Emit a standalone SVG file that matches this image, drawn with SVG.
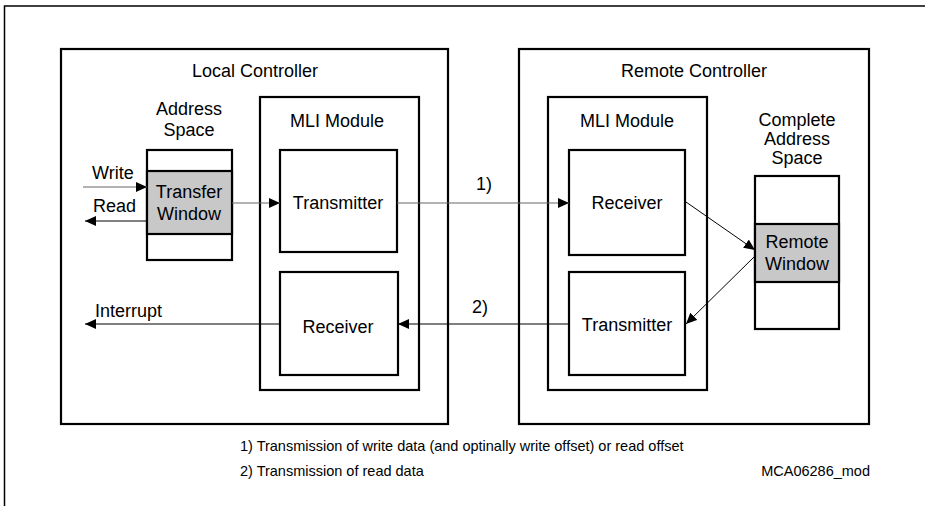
<svg xmlns="http://www.w3.org/2000/svg" width="925" height="506" viewBox="0 0 925 506">
<style>
  .frame{fill:none;stroke:#000;stroke-width:1.5}
  .box{fill:#fff;stroke:#000;stroke-width:2.2}
  .win{fill:#c8c8c8;stroke:#000;stroke-width:2.2}
  .t{font-family:"Liberation Sans",Arial,sans-serif;font-size:18px;fill:#000}
  .c{text-anchor:middle}
  .fn{font-family:"Liberation Sans",Arial,sans-serif;font-size:14.5px;fill:#000}
  .ln{fill:none;stroke:#000;stroke-width:1}
  .gr{fill:none;stroke:#666;stroke-width:1}
</style>
<defs>
  <marker id="ah" markerUnits="userSpaceOnUse" markerWidth="12" markerHeight="10" refX="11" refY="5" orient="auto">
    <path d="M0,0 L11,5 L0,10 Z" fill="#000"/>
  </marker>
</defs>
<rect width="925" height="506" fill="#fff"/>
<path class="frame" d="M925,6 H4.5 V506"/>

<g id="local-controller">
  <rect class="box" x="61" y="49" width="387" height="375"/>
  <text class="t c" x="255" y="77">Local Controller</text>
</g>
<g id="local-address-space">
  <text class="t c" x="189" y="115">Address</text>
  <text class="t c" x="189" y="136">Space</text>
  <rect class="box" x="147" y="150" width="85" height="110"/>
  <rect class="win" x="147" y="171" width="85" height="63"/>
  <text class="t c" x="189" y="198">Transfer</text>
  <text class="t c" x="189" y="220">Window</text>
</g>
<g id="local-mli">
  <rect class="box" x="260" y="97" width="159" height="293"/>
  <text class="t c" x="337" y="127">MLI Module</text>
</g>
<g id="local-transmitter">
  <rect class="box" x="280" y="150" width="117" height="102"/>
  <text class="t c" x="338" y="209">Transmitter</text>
</g>
<g id="local-receiver">
  <rect class="box" x="280" y="272" width="118" height="103"/>
  <text class="t c" x="338" y="333">Receiver</text>
</g>

<g id="remote-controller">
  <rect class="box" x="519" y="49" width="350" height="375"/>
  <text class="t c" x="694" y="77">Remote Controller</text>
</g>
<g id="remote-mli">
  <rect class="box" x="548" y="97" width="159" height="293"/>
  <text class="t c" x="627" y="127">MLI Module</text>
</g>
<g id="remote-receiver">
  <rect class="box" x="569" y="150" width="116" height="105"/>
  <text class="t c" x="627" y="209">Receiver</text>
</g>
<g id="remote-transmitter">
  <rect class="box" x="569" y="272" width="116" height="103"/>
  <text class="t c" x="627" y="331">Transmitter</text>
</g>
<g id="remote-address-space">
  <text class="t c" x="797" y="126">Complete</text>
  <text class="t c" x="797" y="145">Address</text>
  <text class="t c" x="797" y="164">Space</text>
  <rect class="box" x="755" y="176" width="84" height="153"/>
  <rect class="win" x="755" y="224" width="84" height="58"/>
  <text class="t c" x="797" y="248">Remote</text>
  <text class="t c" x="797" y="270">Window</text>
</g>

<g id="connectors">
  <line class="gr" x1="83" y1="187" x2="147" y2="187" marker-end="url(#ah)"/>
  <text class="t" x="92" y="179">Write</text>
  <line class="ln" x1="147" y1="221" x2="85" y2="221" marker-end="url(#ah)"/>
  <text class="t" x="93" y="212">Read</text>
  <line class="gr" x1="232" y1="203" x2="280" y2="203" marker-end="url(#ah)"/>
  <line class="gr" x1="397" y1="203" x2="569" y2="203" marker-end="url(#ah)"/>
  <text class="t c" x="484" y="190">1)</text>
  <line class="ln" x1="686" y1="202" x2="755" y2="250" marker-end="url(#ah)"/>
  <line class="ln" x1="755" y1="256" x2="686" y2="324" marker-end="url(#ah)"/>
  <line class="ln" x1="569" y1="324" x2="398" y2="324" marker-end="url(#ah)"/>
  <text class="t c" x="480" y="313">2)</text>
  <line class="ln" x1="280" y1="324" x2="85" y2="324" marker-end="url(#ah)"/>
  <text class="t" x="95" y="317">Interrupt</text>
</g>

<g id="footnotes">
  <text class="fn" x="240" y="451">1) Transmission of write data (and optinally write offset) or read offset</text>
  <text class="fn" x="240" y="476">2) Transmission of read data</text>
  <text class="fn" x="870" y="476" text-anchor="end">MCA06286_mod</text>
</g>
</svg>
